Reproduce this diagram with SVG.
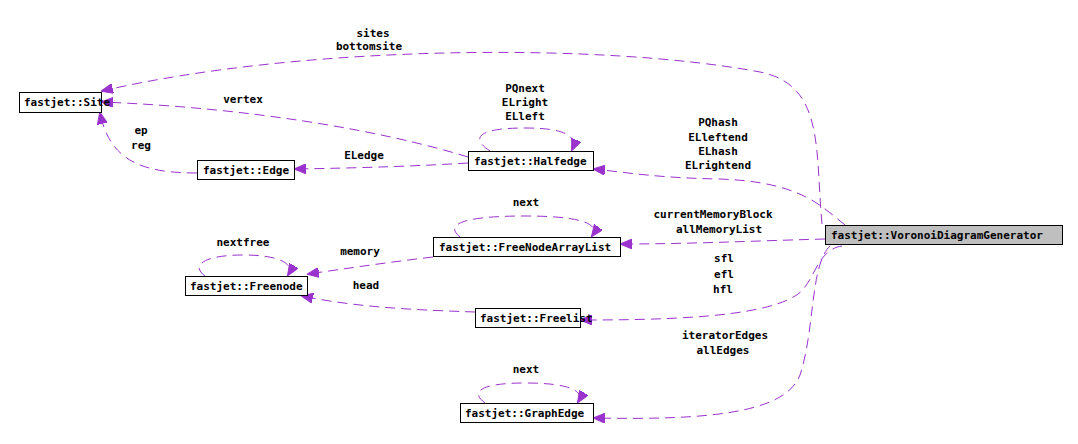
<svg xmlns="http://www.w3.org/2000/svg" width="1078" height="444" viewBox="0 0 1078 444">
<style>
.n rect{fill:#fff;stroke:#000;stroke-width:1}
.n text,.l{font-family:"DejaVu Sans Mono",monospace;font-size:11px;font-weight:bold;fill:#000}
.n text{text-anchor:start}
.l{text-anchor:middle}
#edges path{fill:none;stroke:#9a32cd;stroke-width:1;stroke-dasharray:10,6;marker-end:url(#a)}
</style>
<defs><marker id="a" markerWidth="12" markerHeight="10" refX="11" refY="5" orient="auto" markerUnits="userSpaceOnUse"><path d="M0,0 L12,5 L0,10 Z" fill="#9a32cd" stroke="#9a32cd"/></marker></defs>
<rect width="1078" height="444" fill="#fff"/>
<g id="edges">
<path d="M822,224 C815,150 825,85 760,72 C600,42 300,45 102,91"/>
<path d="M468,157 C380,130 250,108 102,102"/>
<path d="M490,151 C470,138 478,128 525,128 C565,128 578,136 572,150"/>
<path d="M468,163 C420,166 360,168 295,169"/>
<path d="M197,173 C140,173 110,160 100,113"/>
<path d="M845,225 C820,205 800,182 720,179 C660,178 630,173 594,169"/>
<path d="M825,239 C750,241 690,244 621,244"/>
<path d="M460,237 C445,225 460,216 525,216 C585,216 600,225 592,236"/>
<path d="M433,257 C390,262 350,268 308,274"/>
<path d="M205,276 C190,265 205,255 243,255 C280,255 295,264 288,275"/>
<path d="M475,312 C420,310 360,308 302,296"/>
<path d="M842,246 C815,250 815,285 795,296 C760,318 660,320 581,320"/>
<path d="M830,246 C810,265 815,330 800,375 C785,415 700,420 594,418"/>
<path d="M485,403 C470,392 480,383 525,383 C570,383 585,391 578,402"/>
</g>
<g class="l-group">
<text class="l" x="373" y="37">sites</text><text class="l" x="369" y="50">bottomsite</text>
<text class="l" x="243" y="103">vertex</text>
<text class="l" x="525" y="92">PQnext</text><text class="l" x="525" y="106">ELright</text><text class="l" x="525" y="120">ELleft</text>
<text class="l" x="141" y="134">ep</text><text class="l" x="141" y="149">reg</text>
<text class="l" x="364" y="159">ELedge</text>
<text class="l" x="718" y="126">PQhash</text><text class="l" x="718" y="141">ELleftend</text><text class="l" x="718" y="155">ELhash</text><text class="l" x="718" y="169">ELrightend</text>
<text class="l" x="713" y="218">currentMemoryBlock</text><text class="l" x="719" y="233">allMemoryList</text>
<text class="l" x="526" y="206">next</text>
<text class="l" x="243" y="246">nextfree</text>
<text class="l" x="360" y="255">memory</text>
<text class="l" x="366" y="289">head</text>
<text class="l" x="724" y="262">sfl</text><text class="l" x="724" y="278">efl</text><text class="l" x="723" y="293">hfl</text>
<text class="l" x="725" y="339">iteratorEdges</text><text class="l" x="723" y="354">allEdges</text>
<text class="l" x="526" y="373">next</text>
</g>
<g id="site" class="n"><rect x="19.5" y="92.5" width="82" height="20"/><text x="24" y="106">fastjet::Site</text></g>
<g id="edge" class="n"><rect x="197.5" y="160.5" width="97" height="19"/><text x="203" y="174">fastjet::Edge</text></g>
<g id="halfedge" class="n"><rect x="468.5" y="151.5" width="125" height="19"/><text x="474" y="165">fastjet::Halfedge</text></g>
<g id="fnal" class="n"><rect x="433.5" y="237.5" width="187" height="19"/><text x="439" y="251">fastjet::FreeNodeArrayList</text></g>
<g id="freenode" class="n"><rect x="185.5" y="276.5" width="122" height="19"/><text x="190" y="290">fastjet::Freenode</text></g>
<g id="freelist" class="n"><rect x="475.5" y="308.5" width="105" height="19"/><text x="480" y="322">fastjet::Freelist</text></g>
<g id="graphedge" class="n"><rect x="460.5" y="403.5" width="133" height="19"/><text x="465" y="417">fastjet::GraphEdge</text></g>
<g id="vdg" class="n"><rect x="825.5" y="225.5" width="237" height="19" style="fill:#bfbfbf"/><text x="831" y="239">fastjet::VoronoiDiagramGenerator</text></g>
</svg>
